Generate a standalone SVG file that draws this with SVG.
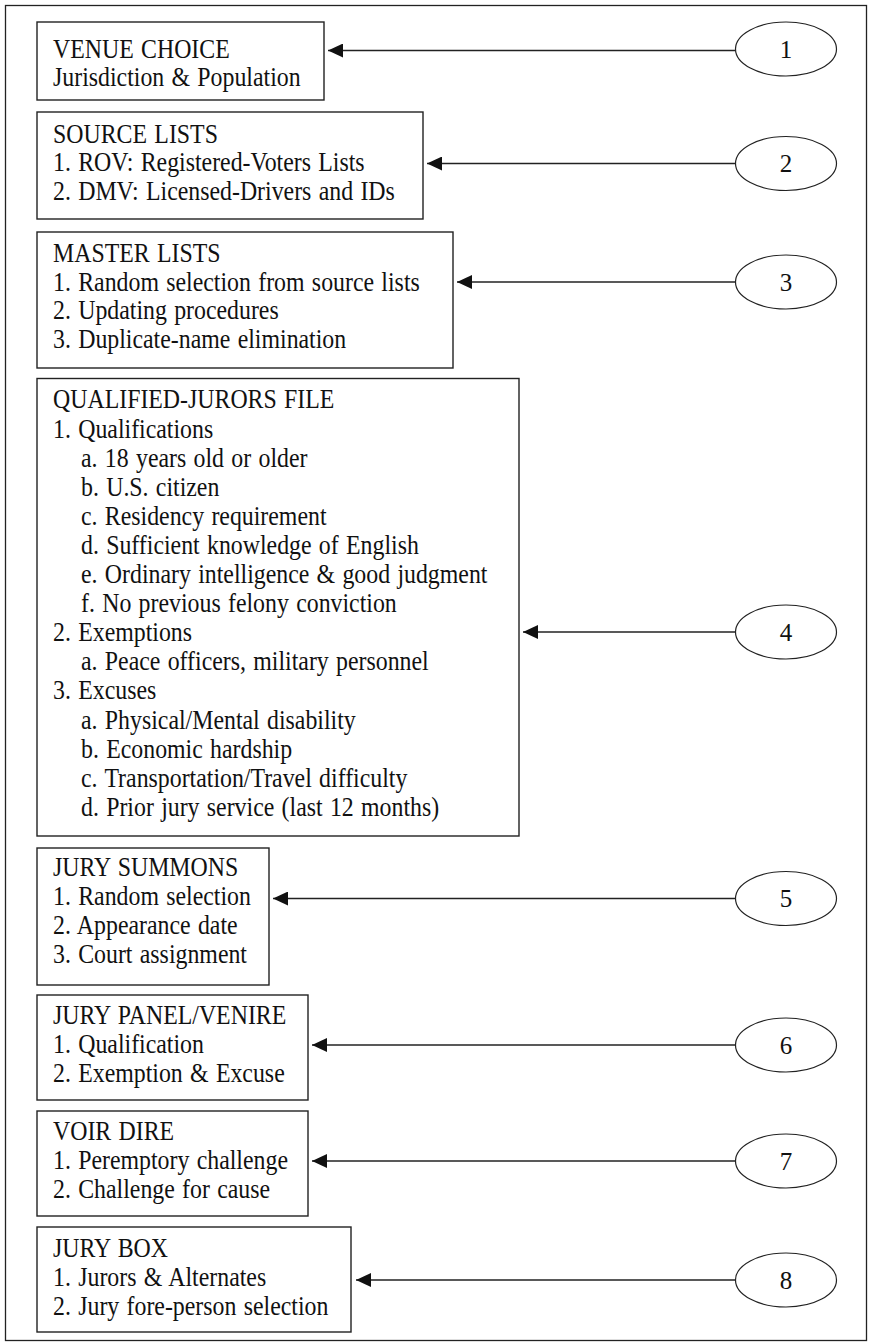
<svg xmlns="http://www.w3.org/2000/svg" width="869" height="1344" viewBox="0 0 869 1344">
<style>
.frame{fill:#fff;stroke:#222;stroke-width:1.3}
.box{fill:#fff;stroke:#222;stroke-width:1.4}
.ell{fill:#fff;stroke:#222;stroke-width:1.2}
.t{font-family:"Liberation Serif","Times New Roman",serif;font-size:26.5px;fill:#111;word-spacing:1.5px}
.n{font-family:"Liberation Serif","Times New Roman",serif;font-size:25px;fill:#111;text-anchor:middle}
.c{stroke:#222;stroke-width:1.3;fill:none;marker-end:url(#ah)}
</style>
<defs>
<marker id="ah" markerUnits="userSpaceOnUse" markerWidth="15" markerHeight="14" refX="15" refY="7" orient="auto">
<path d="M0,0 L15,7 L0,14 z" fill="#111"/>
</marker>
</defs>
<rect class="frame" x="5.5" y="5.5" width="861" height="1335"/>
<g id="connectors">
<line class="c" x1="735.5" y1="50.5" x2="328" y2="50.5"/>
<line class="c" x1="735.5" y1="163.5" x2="427" y2="163.5"/>
<line class="c" x1="735.5" y1="282" x2="457" y2="282"/>
<line class="c" x1="735.5" y1="632" x2="523" y2="632"/>
<line class="c" x1="735.5" y1="898.5" x2="273" y2="898.5"/>
<line class="c" x1="735.5" y1="1045" x2="312" y2="1045"/>
<line class="c" x1="735.5" y1="1161" x2="312" y2="1161"/>
<line class="c" x1="735.5" y1="1280" x2="356" y2="1280"/>
</g>
<g id="box1">
<rect class="box" x="37" y="22" width="287" height="78"/>
<g transform="scale(0.9,1)">
<text class="t" x="58.9" y="58.5">VENUE CHOICE</text>
<text class="t" x="58.9" y="86.5">Jurisdiction &amp; Population</text>
</g>
</g>
<g id="box2">
<rect class="box" x="37" y="112" width="386" height="107"/>
<g transform="scale(0.9,1)">
<text class="t" x="58.9" y="143">SOURCE LISTS</text>
<text class="t" x="58.9" y="171.5">1. ROV: Registered-Voters Lists</text>
<text class="t" x="58.9" y="200">2. DMV: Licensed-Drivers and IDs</text>
</g>
</g>
<g id="box3">
<rect class="box" x="37" y="232" width="416" height="136"/>
<g transform="scale(0.9,1)">
<text class="t" x="58.9" y="262.5">MASTER LISTS</text>
<text class="t" x="58.9" y="291">1. Random selection from source lists</text>
<text class="t" x="58.9" y="319.5">2. Updating procedures</text>
<text class="t" x="58.9" y="348">3. Duplicate-name elimination</text>
</g>
</g>
<g id="box4">
<rect class="box" x="37" y="378.5" width="482" height="457.5"/>
<g transform="scale(0.9,1)">
<text class="t" x="58.9" y="408.5">QUALIFIED-JURORS FILE</text>
<text class="t" x="58.9" y="437.6">1. Qualifications</text>
<text class="t" x="90" y="466.7">a. 18 years old or older</text>
<text class="t" x="90" y="495.8">b. U.S. citizen</text>
<text class="t" x="90" y="524.9">c. Residency requirement</text>
<text class="t" x="90" y="554">d. Sufficient knowledge of English</text>
<text class="t" x="90" y="583.1">e. Ordinary intelligence &amp; good judgment</text>
<text class="t" x="90" y="612.2">f. No previous felony conviction</text>
<text class="t" x="58.9" y="641.3">2. Exemptions</text>
<text class="t" x="90" y="670.4">a. Peace officers, military personnel</text>
<text class="t" x="58.9" y="699.5">3. Excuses</text>
<text class="t" x="90" y="728.6">a. Physical/Mental disability</text>
<text class="t" x="90" y="757.7">b. Economic hardship</text>
<text class="t" x="90" y="786.8">c. Transportation/Travel difficulty</text>
<text class="t" x="90" y="815.9">d. Prior jury service (last 12 months)</text>
</g>
</g>
<g id="box5">
<rect class="box" x="37" y="848" width="232" height="137"/>
<g transform="scale(0.9,1)">
<text class="t" x="58.9" y="876.5">JURY SUMMONS</text>
<text class="t" x="58.9" y="905.2">1. Random selection</text>
<text class="t" x="58.9" y="933.9">2. Appearance date</text>
<text class="t" x="58.9" y="962.6">3. Court assignment</text>
</g>
</g>
<g id="box6">
<rect class="box" x="37" y="995" width="271" height="105"/>
<g transform="scale(0.9,1)">
<text class="t" x="58.9" y="1024.3">JURY PANEL/VENIRE</text>
<text class="t" x="58.9" y="1053">1. Qualification</text>
<text class="t" x="58.9" y="1081.7">2. Exemption &amp; Excuse</text>
</g>
</g>
<g id="box7">
<rect class="box" x="37" y="1111" width="271" height="105"/>
<g transform="scale(0.9,1)">
<text class="t" x="58.9" y="1140.5">VOIR DIRE</text>
<text class="t" x="58.9" y="1169.5">1. Peremptory challenge</text>
<text class="t" x="58.9" y="1198.5">2. Challenge for cause</text>
</g>
</g>
<g id="box8">
<rect class="box" x="37" y="1227" width="314" height="105"/>
<g transform="scale(0.9,1)">
<text class="t" x="58.9" y="1257">JURY BOX</text>
<text class="t" x="58.9" y="1286">1. Jurors &amp; Alternates</text>
<text class="t" x="58.9" y="1315">2. Jury fore-person selection</text>
</g>
</g>
<g id="n1"><ellipse class="ell" cx="786" cy="49" rx="50.5" ry="27"/><text class="n" x="786" y="57.5">1</text></g>
<g id="n2"><ellipse class="ell" cx="786" cy="163.5" rx="50.5" ry="27"/><text class="n" x="786" y="172">2</text></g>
<g id="n3"><ellipse class="ell" cx="786" cy="282" rx="50.5" ry="27"/><text class="n" x="786" y="290.5">3</text></g>
<g id="n4"><ellipse class="ell" cx="786" cy="632" rx="50.5" ry="27"/><text class="n" x="786" y="640.5">4</text></g>
<g id="n5"><ellipse class="ell" cx="786" cy="898.5" rx="50.5" ry="27"/><text class="n" x="786" y="907">5</text></g>
<g id="n6"><ellipse class="ell" cx="786" cy="1045" rx="50.5" ry="27"/><text class="n" x="786" y="1053.5">6</text></g>
<g id="n7"><ellipse class="ell" cx="786" cy="1161" rx="50.5" ry="27"/><text class="n" x="786" y="1169.5">7</text></g>
<g id="n8"><ellipse class="ell" cx="786" cy="1280" rx="50.5" ry="27"/><text class="n" x="786" y="1288.5">8</text></g>
</svg>
